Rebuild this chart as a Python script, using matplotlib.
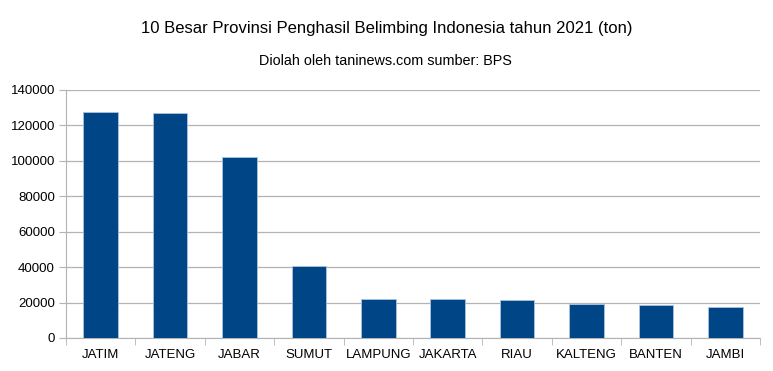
import numpy as np
import matplotlib.pyplot as plt

provinsi = ['JATIM', 'JATENG', 'JABAR', 'SUMUT', 'LAMPUNG', 'JAKARTA',
            'RIAU', 'KALTENG', 'BANTEN', 'JAMBI']
produksi = [127400, 127200, 102200, 40900, 22200, 21800, 21400, 19000, 18700, 17400]

plt.rcParams['font.family'] = ['Liberation Sans', 'DejaVu Sans']

fig = plt.figure(figsize=(7.73, 3.71), dpi=100)
ax = fig.add_axes([66 / 773, 33 / 371, 694 / 773, 248 / 371])

x = np.arange(len(provinsi))
ax.bar(x, produksi, width=0.5, color='#004586', edgecolor='#a9c4e0',
       linewidth=0.6, zorder=3)

ax.set_xlim(-0.5, len(provinsi) - 0.5)
ax.set_ylim(0, 140000)
ax.set_yticks(np.arange(0, 140001, 20000))
ax.set_yticklabels([str(v) for v in range(0, 140001, 20000)], fontsize=9.5)
ax.set_xticks(x)
ax.set_xticklabels(provinsi, fontsize=9.5)
ax.set_xticks(np.arange(-0.5, len(provinsi)), minor=True)
ax.tick_params(axis='x', which='major', length=0, pad=8)
ax.tick_params(axis='x', which='minor', length=5, color='#b3b3b3')
ax.tick_params(axis='y', length=5, color='#b3b3b3', pad=3)

ax.grid(axis='y', color='#b3b3b3', linewidth=0.9, zorder=0)
for side in ['top', 'right']:
    ax.spines[side].set_visible(False)
ax.spines['left'].set_color('#b3b3b3')
ax.spines['bottom'].set_color('#b3b3b3')

fig.text(0.5, 1 - 28 / 371, '10 Besar Provinsi Penghasil Belimbing Indonesia tahun 2021 (ton)',
         ha='center', va='center', fontsize=12)
fig.text(385 / 773, 1 - 61 / 371, 'Diolah oleh taninews.com sumber: BPS',
         ha='center', va='center', fontsize=10.4)

fig.savefig('out.png', dpi=100)
